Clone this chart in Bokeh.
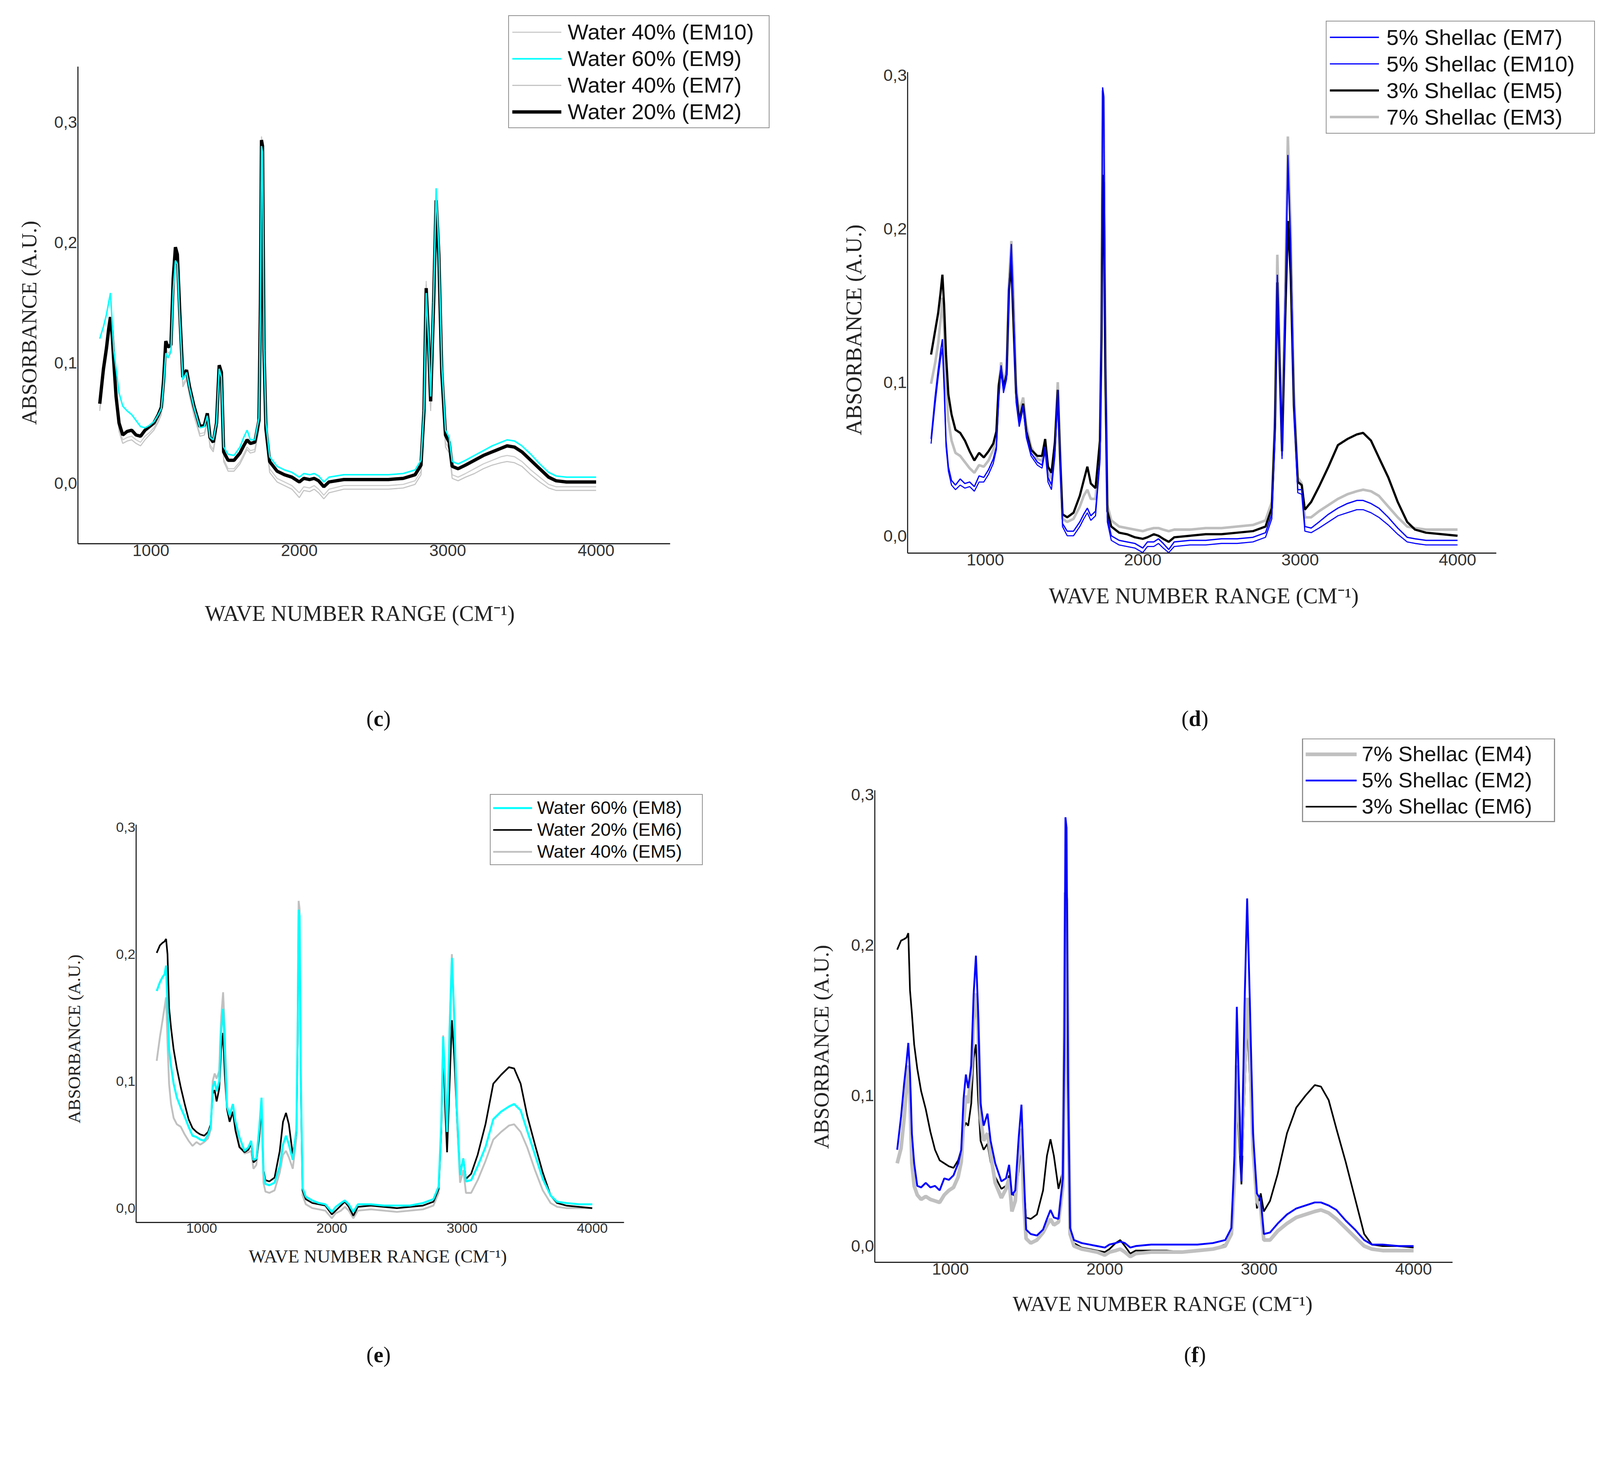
from bokeh.plotting import figure
from bokeh.layouts import row, column
from bokeh.models import (Range1d, FixedTicker, CustomJSTickFormatter, Legend,
                          LegendItem, Div, Title)
from bokeh.embed import file_html
from bokeh.resources import INLINE

# shared wavenumber grid (cm-1)
wavenumber = [
    655, 680, 700, 715, 727, 738, 750, 765, 785, 810,
    840, 870, 900, 930, 960, 990, 1020, 1050, 1070, 1085,
    1100, 1115, 1135, 1150, 1165, 1178, 1195, 1215, 1240, 1260,
    1290, 1330, 1360, 1380, 1398, 1420, 1442, 1460, 1475, 1490,
    1520, 1560, 1600, 1625, 1648, 1670, 1700, 1728, 1738, 1745,
    1752, 1762, 1775, 1800, 1850, 1900, 1950, 2000, 2030, 2070,
    2100, 2130, 2165, 2200, 2300, 2400, 2500, 2600, 2700, 2780,
    2820, 2840, 2855, 2870, 2885, 2905, 2922, 2940, 2960, 2985,
    3010, 3030, 3070, 3120, 3180, 3240, 3300, 3360, 3400, 3450,
    3500, 3560, 3620, 3680, 3730, 3800, 3900, 4000,
]
x_ticks = [1000, 2000, 3000, 4000]
y_ticks = [0.0, 0.1, 0.2, 0.3]

# ---- (c) water content
c_em10 = [
    0.062, 0.090, 0.106, 0.120, 0.130, 0.118, 0.095, 0.068, 0.046, 0.036,
    0.038, 0.039, 0.036, 0.034, 0.039, 0.042, 0.046, 0.053, 0.059, 0.080,
    0.112, 0.108, 0.110, 0.165, 0.190, 0.185, 0.135, 0.082, 0.088, 0.074,
    0.058, 0.041, 0.042, 0.052, 0.032, 0.028, 0.044, 0.092, 0.086, 0.020,
    0.012, 0.012, 0.018, 0.024, 0.030, 0.027, 0.028, 0.046, 0.142, 0.288,
    0.282, 0.105, 0.040, 0.012, 0.004, 0.001, -0.002, -0.008, -0.003, -0.004,
    -0.002, -0.005, -0.010, -0.005, -0.002, -0.002, -0.002, -0.002, -0.001, 0.002,
    0.010, 0.055, 0.168, 0.125, 0.062, 0.148, 0.240, 0.190, 0.088, 0.034,
    0.028, 0.007, 0.005, 0.008, 0.012, 0.016, 0.019, 0.022, 0.023, 0.022,
    0.018, 0.011, 0.005, -0.001, -0.003, -0.003, -0.003, -0.003,
]
c_em9 = [
    0.120, 0.130, 0.140, 0.150, 0.158, 0.135, 0.110, 0.095, 0.075, 0.064,
    0.060, 0.057, 0.052, 0.047, 0.046, 0.048, 0.051, 0.057, 0.062, 0.082,
    0.108, 0.104, 0.110, 0.160, 0.185, 0.182, 0.135, 0.086, 0.092, 0.079,
    0.063, 0.046, 0.047, 0.056, 0.038, 0.036, 0.050, 0.095, 0.088, 0.030,
    0.024, 0.023, 0.030, 0.038, 0.044, 0.036, 0.036, 0.054, 0.145, 0.280,
    0.275, 0.112, 0.050, 0.022, 0.014, 0.011, 0.009, 0.005, 0.008, 0.007,
    0.008, 0.006, 0.001, 0.005, 0.007, 0.007, 0.007, 0.007, 0.008, 0.011,
    0.019, 0.062, 0.158, 0.120, 0.072, 0.155, 0.245, 0.195, 0.098, 0.044,
    0.038, 0.018, 0.016, 0.019, 0.023, 0.027, 0.031, 0.034, 0.036, 0.035,
    0.031, 0.024, 0.016, 0.009, 0.006, 0.005, 0.005, 0.005,
]
c_em7 = [
    0.060, 0.088, 0.104, 0.118, 0.128, 0.115, 0.092, 0.065, 0.043, 0.033,
    0.035, 0.036, 0.033, 0.031, 0.036, 0.040, 0.044, 0.051, 0.057, 0.078,
    0.110, 0.104, 0.108, 0.162, 0.186, 0.180, 0.130, 0.080, 0.086, 0.072,
    0.056, 0.039, 0.040, 0.050, 0.030, 0.026, 0.042, 0.090, 0.084, 0.018,
    0.010, 0.010, 0.016, 0.022, 0.028, 0.025, 0.026, 0.044, 0.140, 0.282,
    0.278, 0.100, 0.037, 0.009, 0.001, -0.002, -0.005, -0.012, -0.006, -0.007,
    -0.005, -0.008, -0.013, -0.008, -0.005, -0.005, -0.005, -0.005, -0.004, -0.001,
    0.007, 0.050, 0.165, 0.122, 0.060, 0.145, 0.238, 0.185, 0.085, 0.030,
    0.025, 0.004, 0.002, 0.005, 0.008, 0.012, 0.015, 0.017, 0.018, 0.017,
    0.014, 0.007, 0.001, -0.004, -0.006, -0.006, -0.006, -0.006,
]
c_em2 = [
    0.066, 0.095, 0.112, 0.128, 0.138, 0.125, 0.100, 0.072, 0.050, 0.040,
    0.043, 0.044, 0.040, 0.039, 0.044, 0.047, 0.050, 0.057, 0.063, 0.085,
    0.118, 0.113, 0.115, 0.170, 0.196, 0.190, 0.140, 0.088, 0.094, 0.080,
    0.064, 0.047, 0.048, 0.058, 0.038, 0.034, 0.050, 0.098, 0.092, 0.026,
    0.019, 0.019, 0.025, 0.031, 0.036, 0.033, 0.034, 0.052, 0.150, 0.285,
    0.280, 0.110, 0.045, 0.018, 0.010, 0.007, 0.005, 0.001, 0.004, 0.003,
    0.004, 0.002, -0.003, 0.001, 0.003, 0.003, 0.003, 0.003, 0.004, 0.007,
    0.015, 0.060, 0.162, 0.120, 0.068, 0.150, 0.235, 0.190, 0.092, 0.040,
    0.034, 0.014, 0.012, 0.015, 0.019, 0.023, 0.026, 0.029, 0.031, 0.030,
    0.026, 0.019, 0.012, 0.005, 0.002, 0.001, 0.001, 0.001,
]

# ---- (d) shellac content
d_em7 = [
    0.063, 0.090, 0.108, 0.120, 0.128, 0.100, 0.062, 0.045, 0.036, 0.033,
    0.037, 0.034, 0.035, 0.032, 0.039, 0.038, 0.043, 0.050, 0.058, 0.090,
    0.111, 0.095, 0.105, 0.160, 0.190, 0.150, 0.090, 0.073, 0.085, 0.066,
    0.054, 0.048, 0.046, 0.058, 0.038, 0.033, 0.055, 0.095, 0.050, 0.008,
    0.003, 0.003, 0.009, 0.014, 0.018, 0.013, 0.016, 0.050, 0.140, 0.292,
    0.286, 0.118, 0.012, 0.000, -0.003, -0.004, -0.005, -0.008, -0.004, -0.004,
    -0.002, -0.005, -0.009, -0.004, -0.003, -0.003, -0.002, -0.002, -0.001, 0.002,
    0.014, 0.065, 0.170, 0.110, 0.052, 0.150, 0.248, 0.190, 0.085, 0.030,
    0.030, 0.006, 0.005, 0.009, 0.014, 0.018, 0.021, 0.023, 0.023, 0.021,
    0.018, 0.012, 0.005, -0.001, -0.002, -0.003, -0.003, -0.003,
]
d_em10 = [
    0.060, 0.085, 0.103, 0.115, 0.122, 0.095, 0.058, 0.042, 0.033, 0.030,
    0.033, 0.031, 0.032, 0.029, 0.035, 0.035, 0.040, 0.047, 0.056, 0.088,
    0.109, 0.093, 0.102, 0.158, 0.186, 0.146, 0.087, 0.071, 0.083, 0.064,
    0.052, 0.046, 0.044, 0.055, 0.035, 0.030, 0.052, 0.092, 0.047, 0.006,
    0.000, 0.000, 0.006, 0.011, 0.015, 0.010, 0.013, 0.048, 0.138, 0.288,
    0.283, 0.115, 0.009, -0.003, -0.006, -0.007, -0.008, -0.011, -0.007, -0.007,
    -0.005, -0.008, -0.011, -0.007, -0.006, -0.006, -0.005, -0.005, -0.004, -0.001,
    0.011, 0.062, 0.165, 0.105, 0.050, 0.145, 0.240, 0.185, 0.082, 0.028,
    0.027, 0.003, 0.002, 0.005, 0.009, 0.013, 0.015, 0.017, 0.017, 0.015,
    0.012, 0.007, 0.001, -0.004, -0.005, -0.006, -0.006, -0.006,
]
d_em5 = [
    0.118, 0.133, 0.145, 0.158, 0.170, 0.150, 0.118, 0.092, 0.079, 0.069,
    0.067, 0.062, 0.055, 0.049, 0.054, 0.051, 0.055, 0.060, 0.068, 0.098,
    0.108, 0.097, 0.105, 0.160, 0.178, 0.140, 0.093, 0.075, 0.086, 0.068,
    0.056, 0.052, 0.052, 0.063, 0.045, 0.041, 0.061, 0.095, 0.050, 0.014,
    0.012, 0.015, 0.026, 0.036, 0.045, 0.034, 0.031, 0.062, 0.130, 0.235,
    0.230, 0.110, 0.016, 0.006, 0.002, 0.001, -0.001, -0.002, -0.001, 0.001,
    0.000, -0.002, -0.004, -0.001, 0.000, 0.001, 0.001, 0.002, 0.003, 0.006,
    0.018, 0.070, 0.165, 0.110, 0.055, 0.140, 0.205, 0.170, 0.085, 0.035,
    0.033, 0.017, 0.022, 0.032, 0.045, 0.059, 0.063, 0.066, 0.067, 0.062,
    0.051, 0.038, 0.022, 0.009, 0.004, 0.002, 0.001, 0.000,
]
d_em3 = [
    0.099, 0.112, 0.125, 0.140, 0.155, 0.135, 0.098, 0.075, 0.062, 0.054,
    0.052, 0.048, 0.044, 0.041, 0.046, 0.045, 0.049, 0.056, 0.065, 0.097,
    0.113, 0.100, 0.108, 0.165, 0.192, 0.160, 0.098, 0.080, 0.090, 0.072,
    0.058, 0.050, 0.049, 0.060, 0.042, 0.037, 0.060, 0.100, 0.055, 0.011,
    0.009, 0.011, 0.019, 0.026, 0.030, 0.024, 0.024, 0.055, 0.140, 0.290,
    0.285, 0.120, 0.020, 0.010, 0.006, 0.005, 0.004, 0.003, 0.004, 0.005,
    0.005, 0.004, 0.003, 0.004, 0.004, 0.005, 0.005, 0.006, 0.007, 0.010,
    0.022, 0.078, 0.183, 0.120, 0.060, 0.160, 0.260, 0.200, 0.095, 0.038,
    0.034, 0.012, 0.012, 0.016, 0.020, 0.024, 0.027, 0.029, 0.030, 0.029,
    0.026, 0.019, 0.012, 0.006, 0.005, 0.004, 0.004, 0.004,
]

# ---- (e) water content
e_em8 = [
    0.171, 0.178, 0.182, 0.184, 0.191, 0.160, 0.125, 0.112, 0.098, 0.087,
    0.079, 0.072, 0.064, 0.057, 0.056, 0.054, 0.053, 0.058, 0.064, 0.095,
    0.100, 0.092, 0.100, 0.140, 0.157, 0.125, 0.080, 0.073, 0.082, 0.068,
    0.056, 0.045, 0.048, 0.053, 0.038, 0.039, 0.062, 0.087, 0.028, 0.019,
    0.018, 0.020, 0.033, 0.050, 0.057, 0.050, 0.038, 0.062, 0.140, 0.235,
    0.230, 0.100, 0.016, 0.009, 0.006, 0.004, 0.003, -0.003, 0.001, 0.004,
    0.006, 0.003, -0.003, 0.003, 0.003, 0.002, 0.002, 0.002, 0.004, 0.007,
    0.017, 0.065, 0.135, 0.100, 0.060, 0.140, 0.197, 0.150, 0.078, 0.026,
    0.039, 0.021, 0.022, 0.033, 0.048, 0.070, 0.076, 0.080, 0.082, 0.077,
    0.061, 0.042, 0.023, 0.010, 0.005, 0.004, 0.003, 0.003,
]
e_em6 = [
    0.201, 0.207, 0.209, 0.210, 0.212, 0.200, 0.158, 0.142, 0.125, 0.110,
    0.095, 0.082, 0.070, 0.063, 0.060, 0.058, 0.057, 0.060, 0.066, 0.090,
    0.093, 0.084, 0.094, 0.125, 0.138, 0.105, 0.078, 0.068, 0.076, 0.061,
    0.048, 0.044, 0.046, 0.051, 0.036, 0.038, 0.056, 0.080, 0.030, 0.022,
    0.021, 0.024, 0.045, 0.068, 0.075, 0.066, 0.042, 0.060, 0.130, 0.228,
    0.222, 0.095, 0.014, 0.007, 0.004, 0.003, 0.002, -0.005, -0.002, 0.002,
    0.005, 0.001, -0.006, 0.001, 0.002, 0.001, 0.000, 0.001, 0.002, 0.005,
    0.015, 0.060, 0.130, 0.080, 0.044, 0.100, 0.148, 0.120, 0.075, 0.028,
    0.039, 0.023, 0.027, 0.042, 0.066, 0.098, 0.105, 0.111, 0.110, 0.098,
    0.073, 0.050, 0.028, 0.010, 0.004, 0.002, 0.001, 0.000,
]
e_em5 = [
    0.116, 0.135, 0.148, 0.158, 0.166, 0.130, 0.098, 0.082, 0.071, 0.066,
    0.064, 0.058, 0.053, 0.049, 0.052, 0.050, 0.052, 0.055, 0.062, 0.100,
    0.106, 0.102, 0.108, 0.150, 0.170, 0.140, 0.078, 0.068, 0.075, 0.062,
    0.050, 0.043, 0.044, 0.045, 0.031, 0.034, 0.055, 0.075, 0.020, 0.013,
    0.012, 0.014, 0.028, 0.042, 0.045, 0.040, 0.031, 0.055, 0.150, 0.242,
    0.236, 0.098, 0.010, 0.003, 0.000, -0.001, -0.002, -0.008, -0.004, -0.002,
    0.001, -0.002, -0.008, -0.002, -0.001, -0.002, -0.003, -0.002, -0.001, 0.002,
    0.012, 0.060, 0.136, 0.100, 0.058, 0.145, 0.200, 0.152, 0.072, 0.020,
    0.030, 0.012, 0.012, 0.022, 0.037, 0.054, 0.060, 0.065, 0.066, 0.060,
    0.048, 0.030, 0.014, 0.004, 0.001, 0.000, 0.000, 0.000,
]

# ---- (f) shellac content
f_em4 = [
    0.055, 0.065, 0.085, 0.105, 0.120, 0.100, 0.055, 0.040, 0.034, 0.031,
    0.033, 0.031, 0.030, 0.029, 0.034, 0.037, 0.039, 0.046, 0.056, 0.082,
    0.100, 0.095, 0.115, 0.150, 0.168, 0.150, 0.085, 0.070, 0.075, 0.061,
    0.042, 0.032, 0.038, 0.045, 0.023, 0.030, 0.062, 0.078, 0.030, 0.005,
    0.002, 0.004, 0.009, 0.014, 0.018, 0.014, 0.016, 0.040, 0.130, 0.235,
    0.230, 0.100, 0.008, 0.000, -0.002, -0.003, -0.004, -0.006, -0.004, -0.003,
    -0.002, -0.004, -0.007, -0.005, -0.004, -0.004, -0.004, -0.003, -0.002, 0.000,
    0.008, 0.045, 0.120, 0.085, 0.060, 0.120, 0.165, 0.130, 0.065, 0.030,
    0.025, 0.004, 0.004, 0.010, 0.015, 0.019, 0.021, 0.023, 0.024, 0.022,
    0.018, 0.012, 0.006, 0.000, -0.002, -0.003, -0.003, -0.003,
]
f_em2 = [
    0.064, 0.086, 0.108, 0.122, 0.135, 0.115, 0.075, 0.055, 0.040, 0.039,
    0.042, 0.039, 0.040, 0.037, 0.045, 0.044, 0.047, 0.055, 0.064, 0.098,
    0.114, 0.105, 0.120, 0.167, 0.193, 0.160, 0.095, 0.080, 0.088, 0.070,
    0.055, 0.043, 0.045, 0.054, 0.034, 0.037, 0.072, 0.094, 0.050, 0.011,
    0.008, 0.007, 0.011, 0.018, 0.024, 0.019, 0.018, 0.045, 0.140, 0.285,
    0.278, 0.110, 0.012, 0.004, 0.002, 0.001, 0.000, -0.001, 0.001, 0.002,
    0.003, 0.002, -0.001, 0.000, 0.001, 0.001, 0.001, 0.001, 0.002, 0.004,
    0.012, 0.060, 0.159, 0.100, 0.043, 0.160, 0.231, 0.160, 0.075, 0.035,
    0.031, 0.008, 0.009, 0.015, 0.021, 0.025, 0.027, 0.029, 0.029, 0.027,
    0.024, 0.017, 0.011, 0.004, 0.001, 0.001, 0.000, 0.000,
]
f_em6 = [
    0.197, 0.203, 0.204, 0.205, 0.208, 0.170, 0.155, 0.134, 0.118, 0.103,
    0.091, 0.076, 0.064, 0.057, 0.055, 0.053, 0.052, 0.057, 0.064, 0.078,
    0.082, 0.080, 0.095, 0.125, 0.134, 0.100, 0.070, 0.064, 0.068, 0.056,
    0.046, 0.038, 0.040, 0.047, 0.035, 0.033, 0.050, 0.072, 0.040, 0.019,
    0.018, 0.021, 0.037, 0.060, 0.071, 0.060, 0.038, 0.050, 0.120, 0.215,
    0.210, 0.090, 0.010, 0.002, -0.001, -0.002, -0.003, -0.004, -0.002, 0.002,
    0.004, 0.000, -0.005, -0.003, -0.003, -0.003, -0.004, -0.003, -0.002, 0.001,
    0.010, 0.045, 0.100, 0.070, 0.041, 0.100, 0.150, 0.110, 0.060, 0.025,
    0.035, 0.023, 0.030, 0.048, 0.075, 0.092, 0.100, 0.107, 0.106, 0.097,
    0.078, 0.056, 0.032, 0.008, 0.001, 0.000, 0.000, -0.001,
]

for s in (c_em10, c_em9, c_em7, c_em2, d_em7, d_em10, d_em5, d_em3,
          e_em8, e_em6, e_em5, f_em4, f_em2, f_em6):
    assert len(s) == len(wavenumber), len(s)

# sizes below are given in screenshot pixels; the page renders 1.065x larger
K = 1 / 1.065


def S(v):
    return v * K


def I(v):
    return int(round(v * K))


def make_panel(width, height, borders, xr, yr, x_bounds, y_bounds, tick_px):
    left, right, top, bottom = borders
    p = figure(width=I(width), height=I(height), x_range=Range1d(*xr), y_range=Range1d(*yr),
               output_backend="svg", toolbar_location=None,
               min_border_left=I(left), min_border_right=I(right),
               min_border_top=I(top), min_border_bottom=I(bottom))
    p.outline_line_color = None
    p.grid.visible = False
    p.xaxis.ticker = FixedTicker(ticks=x_ticks)
    p.yaxis.ticker = FixedTicker(ticks=y_ticks)
    p.xaxis.formatter = CustomJSTickFormatter(code="return tick.toFixed(0);")
    p.yaxis.formatter = CustomJSTickFormatter(code="return tick.toFixed(1).replace('.', ',');")
    # the frame also holds the legend, so the axis lines only cover the data part
    p.xaxis.bounds = x_bounds
    p.yaxis.bounds = y_bounds
    p.axis.major_tick_line_color = None
    p.axis.minor_tick_line_color = None
    p.axis.major_tick_out = 0
    p.axis.major_tick_in = 0
    p.axis.minor_tick_out = 0
    p.axis.axis_line_color = "#222222"
    p.axis.axis_line_width = S(3)
    p.axis.major_label_standoff = I(2)
    p.axis.major_label_text_font = "Liberation Sans"
    p.axis.major_label_text_font_size = f"{S(tick_px):.1f}px"
    p.axis.major_label_text_color = "#333333"
    return p


def axis_titles(p, x_font, x_offset, x_standoff, y_font, y_offset, y_standoff):
    common = dict(text_font="Liberation Serif", text_font_style="normal",
                  text_color="#222222", align="left")
    p.add_layout(Title(text="WAVE NUMBER RANGE (CM⁻¹)", offset=S(x_offset),
                       standoff=S(x_standoff), text_font_size=f"{S(x_font):.1f}px",
                       **common), "below")
    p.add_layout(Title(text="ABSORBANCE (A.U.)", offset=S(y_offset),
                       standoff=S(y_standoff), text_font_size=f"{S(y_font):.1f}px",
                       **common), "left")


def add_legend(p, entries, loc, font_px, glyph_w, row_h, spacing, padding, standoff,
               label_w, border_w):
    legend = Legend(items=[LegendItem(label=t, renderers=[r]) for t, r in entries],
                    location=(S(loc[0]), S(loc[1])), margin=0, padding=I(padding),
                    spacing=I(spacing), glyph_width=I(glyph_w), glyph_height=I(row_h),
                    label_height=I(row_h), label_width=I(label_w),
                    label_standoff=I(standoff),
                    label_text_font="Liberation Sans",
                    label_text_font_size=f"{S(font_px):.1f}px",
                    label_text_color="#111111",
                    border_line_color="#222222", border_line_width=S(border_w),
                    background_fill_color="white", background_fill_alpha=1.0)
    p.add_layout(legend)


def caption(letter, width, height, center_x):
    html = (f'<div style="width:{2 * I(center_x)}px;height:{I(height)}px;'
            f'line-height:{I(height)}px;text-align:center;'
            f'font-family:\'Liberation Serif\';font-size:{S(60):.1f}px;color:#111111;">'
            f'(<b>{letter}</b>)</div>')
    return Div(text=html, width=I(width), height=I(height), margin=0)


# (c)
pc = make_panel(2158, 1925, (212, 48, 30, 444), (508, 5199), (-0.0503, 0.3921),
                (508, 4500), (-0.0503, 0.346), 45)
rc10 = pc.line(wavenumber, c_em10, line_color="#cccccc", line_width=S(3))
rc7 = pc.line(wavenumber, c_em7, line_color="#c4c4c4", line_width=S(3))
rc2 = pc.line(wavenumber, c_em2, line_color="black", line_width=S(9))
rc9 = pc.line(wavenumber, c_em9, line_color="#00ffff", line_width=S(4))
add_legend(pc, [("Water 40% (EM10)", rc10), ("Water 60% (EM9)", rc9),
                ("Water 40% (EM7)", rc7), ("Water 20% (EM2)", rc2)],
           (1174, 1132), 60, 134, 68, 3, 9, 17, 540, 3)
axis_titles(pc, 60, 346, 238, 58, 324, 66)

# (d)
pd = make_panel(2207, 1925, (316, 5, 40, 419), (506, 4899), (-0.0113, 0.3391),
                (506, 4247), (-0.0113, 0.302), 46)
rd3 = pd.line(wavenumber, d_em3, line_color="#bebebe", line_width=S(7))
rd5 = pd.line(wavenumber, d_em5, line_color="black", line_width=S(6))
rd10 = pd.line(wavenumber, d_em10, line_color="#0000ff", line_width=S(3))
rd7 = pd.line(wavenumber, d_em7, line_color="#0000ff", line_width=S(3.5))
add_legend(pd, [("5% Shellac (EM7)", rd7), ("5% Shellac (EM10)", rd10),
                ("3% Shellac (EM5)", rd5), ("7% Shellac (EM3)", rd3)],
           (1141, 1143), 60, 134, 68, 3, 9, 20, 558, 3)
axis_titles(pd, 60, 385, 92, 60, 321, 89)

# (e)
pe = make_panel(2158, 1660, (371, 233, 160, 322), (497, 4874), (-0.0113, 0.3294),
                (497, 4243), (-0.0113, 0.302), 38)
re5 = pe.line(wavenumber, e_em5, line_color="#c0c0c0", line_width=S(5))
re6 = pe.line(wavenumber, e_em6, line_color="black", line_width=S(4.5))
re8 = pe.line(wavenumber, e_em8, line_color="#00ffff", line_width=S(5.5))
add_legend(pe, [("Water 60% (EM8)", re8), ("Water 20% (EM6)", re6),
                ("Water 40% (EM5)", re5)],
           (965, 973), 50, 106, 56, 2, 6, 14, 443, 3)
axis_titles(pe, 50, 307, 63, 48, 270, 168)

# (f)
pf = make_panel(2207, 1660, (227, 120, 20, 213), (510, 4928), (-0.0108, 0.3372),
                (510, 4252), (-0.0108, 0.3028), 45)
rf6 = pf.line(wavenumber, f_em6, line_color="black", line_width=S(4.5))
rf4 = pf.line(wavenumber, f_em4, line_color="#c0c0c0", line_width=S(10))
rf2 = pf.line(wavenumber, f_em2, line_color="#0000ff", line_width=S(5))
add_legend(pf, [("7% Shellac (EM4)", rf4), ("5% Shellac (EM2)", rf2),
                ("3% Shellac (EM6)", rf6)],
           (1165, 1199), 58, 140, 66, 4, 6, 14, 518, 4)
axis_titles(pf, 58, 376, 84, 58, 309, 90)

# each plot sits in its own column so that the row does not align their frames
layout = column(row(column(pc), column(pd)),
                row(caption("c", 2158, 67, 1032), caption("d", 2207, 67, 1100)),
                row(column(pe), column(pf)),
                row(caption("e", 2158, 80, 1032), caption("f", 2207, 80, 1100)))

open("out.html", "w").write(file_html(layout, INLINE))
